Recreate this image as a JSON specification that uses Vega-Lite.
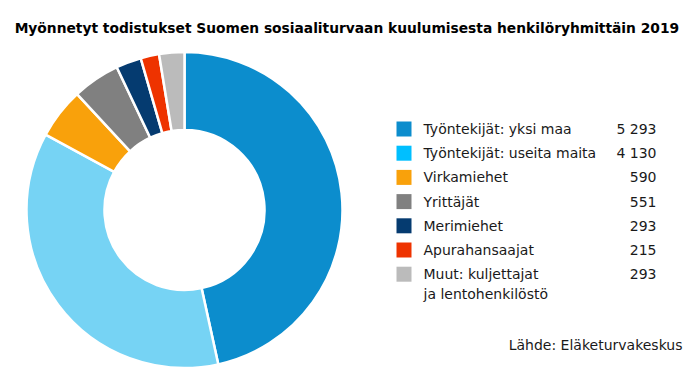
{
  "$schema": "https://vega.github.io/schema/vega-lite/v6.json",
  "padding": {"left": 14.5, "top": 21, "right": 0, "bottom": 0},
  "autosize": {"type": "pad"},
  "background": "white",
  "title": {
    "text": "Myönnetyt todistukset Suomen sosiaaliturvaan kuulumisesta henkilöryhmittäin 2019",
    "fontSize": 13.8, "fontWeight": "bold", "font": "DejaVu Sans", "color": "#000000",
    "anchor": "middle", "offset": 15, "dx": -7
  },
  "config": {
    "view": {"stroke": null},
    "font": "DejaVu Sans",
    "locale": {"number": {"decimal": ",", "thousands": "\u00a0", "grouping": [3], "currency": ["", " €"]}}
  },
  "datasets": {
    "d": [
      {"ryhma": "Työntekijät: yksi maa", "lkm": 5293},
      {"ryhma": "Työntekijät: useita maita", "lkm": 4130},
      {"ryhma": "Virkamiehet", "lkm": 590},
      {"ryhma": "Yrittäjät", "lkm": 551},
      {"ryhma": "Merimiehet", "lkm": 293},
      {"ryhma": "Apurahansaajat", "lkm": 215},
      {"ryhma": "Muut: kuljettajat\nja lentohenkilöstö", "lkm": 293}
    ]
  },
  "spacing": 52,
  "resolve": {"scale": {"color": "independent"}},
  "hconcat": [
    {
      "width": 316,
      "height": 316,
      "data": {"name": "d"},
      "transform": [{"window": [{"op": "row_number", "as": "jarj"}]}],
      "mark": {"type": "arc", "outerRadius": 158, "innerRadius": 80, "stroke": "white", "strokeWidth": 2.5, "strokeJoin": "round"},
      "encoding": {
        "theta": {"field": "lkm", "type": "quantitative", "stack": true},
        "order": {"field": "jarj", "type": "quantitative"},
        "color": {
          "field": "ryhma", "type": "nominal", "sort": null, "legend": null,
          "scale": {
            "domain": ["Työntekijät: yksi maa", "Työntekijät: useita maita", "Virkamiehet", "Yrittäjät", "Merimiehet", "Apurahansaajat", "Muut: kuljettajat\nja lentohenkilöstö"],
            "range": ["#0C8DCD", "#76D3F4", "#F9A10B", "#808080", "#053B70", "#EE3300", "#BBBBBB"]
          }
        }
      }
    },
    {
      "width": 286,
      "height": 282,
      "data": {"name": "d"},
      "title": {"text": "Lähde: Eläketurvakeskus", "orient": "bottom", "anchor": "end", "fontSize": 14, "fontWeight": "normal", "color": "#1a1a1a", "offset": 5},
      "encoding": {
        "y": {
          "field": "ryhma", "type": "nominal", "sort": null, "axis": null,
          "scale": {"type": "point", "padding": 0, "range": [77, 222.2]}
        }
      },
      "layer": [
        {
          "mark": {"type": "square", "size": 225, "opacity": 1, "filled": true},
          "encoding": {
            "x": {"datum": 7.5, "type": "quantitative", "scale": {"domain": [0, 286], "nice": false, "zero": false}, "axis": null},
            "color": {
              "field": "ryhma", "type": "nominal", "sort": null, "legend": null,
              "scale": {
                "domain": ["Työntekijät: yksi maa", "Työntekijät: useita maita", "Virkamiehet", "Yrittäjät", "Merimiehet", "Apurahansaajat", "Muut: kuljettajat\nja lentohenkilöstö"],
                "range": ["#0C8DCD", "#00BFFF", "#F9A10B", "#808080", "#053B70", "#EE3300", "#BBBBBB"]
              }
            }
          }
        },
        {
          "mark": {"type": "text", "align": "left", "baseline": "alphabetic", "dy": 5, "fontSize": 14, "lineBreak": "\n", "lineHeight": 20, "color": "#1a1a1a"},
          "encoding": {
            "x": {"datum": 27, "type": "quantitative"},
            "text": {"field": "ryhma", "type": "nominal"}
          }
        },
        {
          "mark": {"type": "text", "align": "right", "baseline": "alphabetic", "dy": 5, "fontSize": 14, "color": "#1a1a1a"},
          "encoding": {
            "x": {"datum": 260, "type": "quantitative"},
            "text": {"field": "lkm", "type": "quantitative", "format": ","}
          }
        }
      ]
    }
  ]
}
